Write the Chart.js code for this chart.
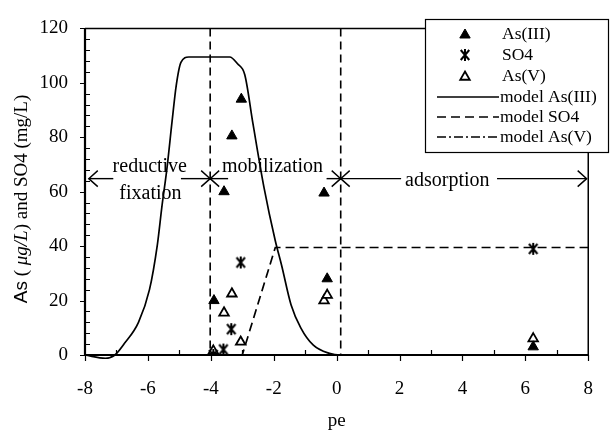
<!DOCTYPE html>
<html><head><meta charset="utf-8">
<script src="https://cdn.jsdelivr.net/npm/chart.js@4.4.1/dist/chart.umd.min.js"></script>
<style>html,body{margin:0;padding:0;background:#fff}#wrap{width:616px;height:440px}</style>
</head><body><div id="wrap"><canvas id="c" width="616" height="440"></canvas></div>
<script>
// ---- data ----
const xTicks = [-8, -6, -4, -2, 0, 2, 4, 6, 8];
const yTicks = [0, 20, 40, 60, 80, 100, 120];

const as3X = [-3.9, -3.58, -3.33, -3.03, -0.4, -0.3, 6.25];
const as3Y = [20, 60, 80.5, 94, 59.5, 28, 3];

const so4X = [-3.92, -3.6, -3.35, -3.05, 6.25];
const so4Y = [0, 2, 9.5, 34, 39];

const as5X = [-3.92, -3.58, -3.33, -3.05, -0.4, -0.3, 6.25];
const as5Y = [1.5, 15.5, 22.5, 4.8, 20, 22, 6];

const modelAs3X = [-8, -7.35, -7.05, -6.75, -6.3, -5.95, -5.7, -5.55, -5.4, -5.23, -5.1, -4.95, -4.7, -3.4, -3.15, -2.92, -2.66, -2.31, -1.95, -1.75, -1.45, -1.14, -0.74, -0.23, 0.13, 8];
const modelAs3Y = [0, -1.2, 0, 4.2, 12, 24, 40.5, 55, 68, 86, 99, 107.5, 109.5, 109.5, 107, 103, 85, 61.6, 42, 33, 18.5, 10, 3.6, 0.6, 0, 0];

const modelSO4X = [-8, -3.0, -1.95, 8];
const modelSO4Y = [0, 0, 39.5, 39.5];

const modelAs5X = [-8, 8];
const modelAs5Y = [0, 0];

const seriesLabels = ['As(III)', 'SO4', 'As(V)', 'model As(III)', 'model SO4', 'model As(V)'];

// zone boundaries and annotation texts
const boundaryX = [-4.02, 0.13];
const arrowY = 64.8;
const arrowFrom = [-7.1, -4.95, -3.45, -0.32, 2.05, 5.1];
const arrowTo   = [-7.88, -4.02, -4.02, 0.13, 0.13, 7.95];
const zoneText = ['reductive', 'fixation', 'mobilization', 'adsorption'];
const zoneTextX = [-5.94, -5.92, -2.04, 3.52];
const zoneTextY = [69.3, 59.1, 69.3, 64.2];

const xTitle = 'pe';

function pts(xs, ys) { return xs.map((x, i) => ({x: x, y: ys[i]})); }

// SO4 marker (asterisk-like X)
function makeStar(size) {
  const c = document.createElement('canvas');
  c.width = size; c.height = size;
  const g = c.getContext('2d');
  g.strokeStyle = '#000'; g.lineWidth = 2; g.lineCap = 'butt';
  const m = size / 2, r = size / 2 - 2;
  g.beginPath();
  g.moveTo(m - r * 0.85, m - r); g.lineTo(m + r * 0.85, m + r);
  g.moveTo(m + r * 0.85, m - r); g.lineTo(m - r * 0.85, m + r);
  g.moveTo(m, m - r - 1); g.lineTo(m, m + r + 1);
  g.stroke();
  return c;
}
const starImg = makeStar(14);

const SERIF = '"Liberation Serif", "Times New Roman", serif';
const SANS = '"Liberation Sans", Arial, sans-serif';

function triangle(ctx, x, y, r, fill) {
  ctx.beginPath();
  ctx.moveTo(x, y - r);
  ctx.lineTo(x + r * 0.866, y + r * 0.5);
  ctx.lineTo(x - r * 0.866, y + r * 0.5);
  ctx.closePath();
  ctx.fillStyle = fill ? '#000' : '#fff';
  ctx.fill();
  ctx.lineWidth = fill ? 1 : 1.8;
  ctx.strokeStyle = '#000';
  ctx.stroke();
}

const decor = {
  id: 'decor',
  beforeDraw(chart) {
    const ctx = chart.ctx;
    ctx.save(); ctx.fillStyle = '#fff'; ctx.fillRect(0, 0, chart.width, chart.height); ctx.restore();
  },
  beforeDatasetsDraw(chart) {
    const ctx = chart.ctx, xs = chart.scales.x, ys = chart.scales.y;
    ctx.save();
    ctx.strokeStyle = '#000'; ctx.lineWidth = 1.6; ctx.setLineDash([8, 5]);
    boundaryX.forEach(v => {
      const px = xs.getPixelForValue(v);
      ctx.beginPath(); ctx.moveTo(px, ys.getPixelForValue(120)); ctx.lineTo(px, ys.getPixelForValue(0)); ctx.stroke();
    });
    ctx.restore();
  },
  afterDatasetsDraw(chart) {
    const ctx = chart.ctx, xs = chart.scales.x, ys = chart.scales.y;
    const a = chart.chartArea;
    ctx.save();
    // arrows
    ctx.strokeStyle = '#000'; ctx.lineWidth = 1.4; ctx.setLineDash([]);
    const py = ys.getPixelForValue(arrowY);
    arrowFrom.forEach((f, i) => {
      const x0 = xs.getPixelForValue(f), x1 = xs.getPixelForValue(arrowTo[i]);
      const dir = x1 > x0 ? 1 : -1;
      ctx.beginPath(); ctx.moveTo(x0, py); ctx.lineTo(x1, py); ctx.stroke();
      ctx.beginPath();
      ctx.moveTo(x1 - dir * 9, py - 8); ctx.lineTo(x1, py); ctx.lineTo(x1 - dir * 9, py + 8);
      ctx.stroke();
    });
    // zone texts
    ctx.fillStyle = '#000'; ctx.font = '20px ' + SERIF; ctx.textAlign = 'center'; ctx.textBaseline = 'middle';
    zoneText.forEach((t, i) => ctx.fillText(t, xs.getPixelForValue(zoneTextX[i]), ys.getPixelForValue(zoneTextY[i])));

    // frame
    ctx.strokeStyle = '#000';
    ctx.lineWidth = 1.5;
    ctx.beginPath(); ctx.moveTo(a.left, a.top); ctx.lineTo(a.right, a.top); ctx.lineTo(a.right, a.bottom); ctx.stroke();
    ctx.lineWidth = 2.2;
    ctx.beginPath(); ctx.moveTo(a.left, a.top); ctx.lineTo(a.left, a.bottom); ctx.lineTo(a.right, a.bottom); ctx.stroke();
    // ticks
    ctx.lineWidth = 1.2;
    ctx.beginPath();
    for (let v = 0; v <= 120; v += 4) {
      const y = Math.round(ys.getPixelForValue(v)) + 0.5;
      if (v % 20 === 0) { ctx.moveTo(a.left - 5, y); ctx.lineTo(a.left, y); }
      else { ctx.moveTo(a.left, y); ctx.lineTo(a.left + 5, y); }
    }
    for (let v = -8; v <= 8; v += 1) {
      const x = Math.round(xs.getPixelForValue(v)) + 0.5;
      if (v % 2 === 0) { ctx.moveTo(x, a.bottom); ctx.lineTo(x, a.bottom + 6); }
      else { ctx.moveTo(x, a.bottom); ctx.lineTo(x, a.bottom - 5); }
    }
    ctx.stroke();

    // legend
    const L = 425, T = 19, R = 608, B = 152;
    ctx.fillStyle = '#fff'; ctx.fillRect(L, T, R - L, B - T);
    ctx.lineWidth = 1.2; ctx.strokeStyle = '#000';
    ctx.strokeRect(L + 0.5, T + 0.5, R - L, B - T);
    const rows = [34, 55, 76, 97, 117, 137];
    ctx.font = '17.5px ' + SERIF; ctx.textAlign = 'left'; ctx.textBaseline = 'middle';
    chart.data.datasets.forEach((ds, i) => {
      const y = rows[i];
      if (i === 0) triangle(ctx, 465, y + 1, 6, true);
      else if (i === 1) ctx.drawImage(starImg, 465 - 7, y - 7);
      else if (i === 2) triangle(ctx, 465, y + 1, 5.5, false);
      else {
        ctx.save();
        ctx.lineWidth = 1.6; ctx.strokeStyle = '#000';
        ctx.setLineDash(ds.borderDash || []);
        ctx.beginPath(); ctx.moveTo(437, y); ctx.lineTo(499, y); ctx.stroke();
        ctx.restore();
      }
      ctx.fillStyle = '#000';
      ctx.fillText(ds.label, i < 3 ? 502 : 500, y);
    });

    // axis titles
    ctx.fillStyle = '#000';
    ctx.font = '19px ' + SERIF; ctx.textAlign = 'center'; ctx.textBaseline = 'middle';
    ctx.fillText(xTitle, (a.left + a.right) / 2, 421);

    const segs = [
      {t: 'As', f: '19px ' + SANS},
      {t: ' ( ', f: '19px ' + SERIF},
      {t: 'μg/L', f: 'italic 19px ' + SERIF},
      {t: ') and SO4 (mg/L)', f: '19px ' + SERIF}
    ];
    let total = 0;
    segs.forEach(s => { ctx.font = s.f; s.w = ctx.measureText(s.t).width; total += s.w; });
    ctx.translate(22, 199); ctx.rotate(-Math.PI / 2);
    ctx.textAlign = 'left';
    let cx = -total / 2;
    segs.forEach(s => { ctx.font = s.f; ctx.fillText(s.t, cx, 0); cx += s.w; });
    ctx.restore();
  }
};

new Chart(document.getElementById('c'), {
  type: 'scatter',
  data: {
    datasets: [
      {label: seriesLabels[0], data: pts(as3X, as3Y), pointStyle: 'triangle', pointRadius: 6, pointHoverRadius: 6,
       backgroundColor: '#000', borderColor: '#000', borderWidth: 1},
      {label: seriesLabels[1], data: pts(so4X, so4Y), pointStyle: starImg, pointRadius: 7, pointHoverRadius: 7,
       backgroundColor: '#000', borderColor: '#000'},
      {label: seriesLabels[2], data: pts(as5X, as5Y), pointStyle: 'triangle', pointRadius: 5.5, pointHoverRadius: 5.5,
       backgroundColor: '#fff', borderColor: '#000', borderWidth: 1.8},
      {label: seriesLabels[3], data: pts(modelAs3X, modelAs3Y), showLine: true, pointRadius: 0, borderColor: '#000',
       borderWidth: 1.7, cubicInterpolationMode: 'monotone', clip: 10},
      {label: seriesLabels[4], data: pts(modelSO4X, modelSO4Y), showLine: true, pointRadius: 0, borderColor: '#000',
       borderWidth: 1.7, borderDash: [9, 5], clip: 10},
      {label: seriesLabels[5], data: pts(modelAs5X, modelAs5Y), showLine: true, pointRadius: 0, borderColor: '#000',
       borderWidth: 1.5, borderDash: [9, 3, 2, 3], clip: 10}
    ]
  },
  options: {
    responsive: false, animation: false, devicePixelRatio: 1,
    layout: {padding: {left: 0, top: 20, right: 6, bottom: 0}},
    plugins: {legend: {display: false}, tooltip: {enabled: false}, title: {display: false}},
    scales: {
      x: {
        type: 'linear', min: -8, max: 8,
        afterBuildTicks: s => { s.ticks = xTicks.map(v => ({value: v})); },
        afterFit: s => { s.height = 85; },
        grid: {display: false, drawTicks: false}, border: {display: false},
        ticks: {padding: 23, color: '#000', font: {family: SERIF, size: 19}, maxRotation: 0}
      },
      y: {
        type: 'linear', min: 0, max: 120,
        afterBuildTicks: s => { s.ticks = yTicks.map(v => ({value: v})); },
        afterFit: s => { s.width = 85; },
        grid: {display: false, drawTicks: false}, border: {display: false},
        ticks: {padding: 17, color: '#000', font: {family: SERIF, size: 19}}
      }
    }
  },
  plugins: [decor]
});
</script></body></html>
